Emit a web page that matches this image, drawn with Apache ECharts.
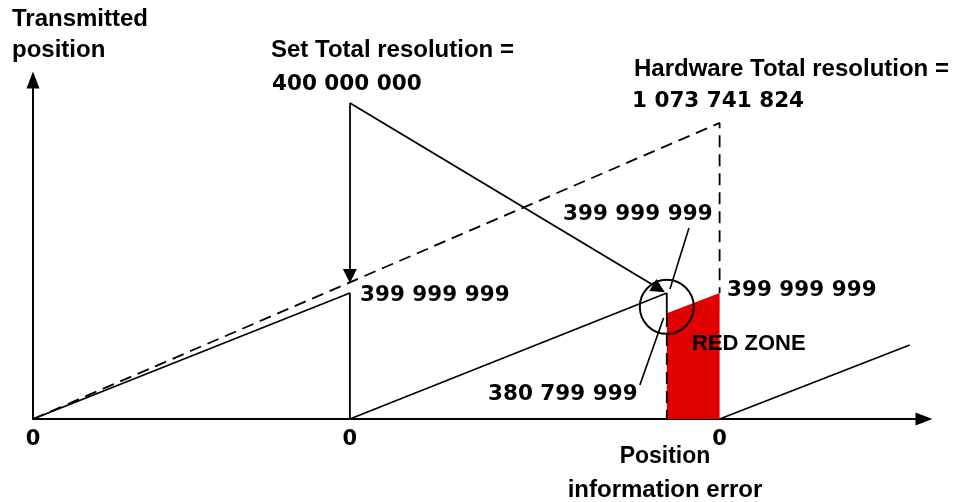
<!DOCTYPE html>
<html>
<head>
<meta charset="utf-8">
<script src="https://cdn.jsdelivr.net/npm/echarts@6/dist/echarts.min.js"></script>
<style>
html, body { margin: 0; padding: 0; background: #fff; }
#chart { width: 962px; height: 502px; }
</style>
</head>
<body>
<div id="chart"></div>
<script>
// schematic units: x = travel, y = position in millions (400 ~ 399 999 999)
var ramp1 = [[0, 0], [6, 400], [6, 0]];
var ramp2 = [[6, 0], [12, 400]];
var ramp3 = [[13, 0], [16.6, 235]];
var hwLine = [[0, 0], [13, 940], [13, 400]];
var wrapSolid = [[12, 400], [12, 330]];
var wrapDash = [[12, 330], [12, 0]];
var redZone = [[12, 336], [13, 400]];
var zeroTicks = [0, 6, 13];
var arrows = [
  [[6, 1003], [6, 454]],
  [[6, 1003], [11.85, 414]]
];
var leaders = [
  [[12.42, 606], [12.06, 413]],
  [[11.49, 108], [11.94, 321]]
];
var circle = [[12, 356]];

var black = '#000';
var wordFont = '"Liberation Sans", Arial, sans-serif';
var numFont = '"DejaVu Sans", sans-serif';

function seg(data, dashed) {
  return {
    type: 'line',
    data: data,
    symbol: 'none',
    silent: true,
    z: 3,
    lineStyle: { color: black, width: 1.8, type: dashed ? [12, 7] : 'solid' }
  };
}

function txt(text, x, y, size, family, align) {
  return {
    type: 'text',
    x: x,
    y: y,
    z: 100,
    style: {
      text: text,
      fill: black,
      font: 'bold ' + size + 'px ' + family,
      textAlign: align || 'left',
      textVerticalAlign: 'middle'
    }
  };
}

var chart = echarts.init(document.getElementById('chart'));

var option = {
  animation: false,
  backgroundColor: '#fff',
  grid: { left: 33, right: 38, top: 80, bottom: 83 },
  xAxis: {
    type: 'value',
    min: 0,
    max: 16.87,
    axisLine: {
      lineStyle: { color: black, width: 2 },
      symbol: ['none', 'triangle'],
      symbolSize: [13, 17]
    },
    axisTick: { show: false },
    splitLine: { show: false },
    axisLabel: {
      customValues: zeroTicks,
      formatter: function () { return '0'; },
      color: black,
      fontWeight: 'bold',
      fontSize: 21,
      fontFamily: numFont,
      margin: 10
    }
  },
  yAxis: {
    type: 'value',
    min: 0,
    max: 1076.2,
    axisLine: {
      show: true,
      lineStyle: { color: black, width: 2 },
      symbol: ['none', 'triangle'],
      symbolSize: [13, 17]
    },
    axisTick: { show: false },
    splitLine: { show: false },
    axisLabel: { show: false }
  },
  series: [
    {
      type: 'line',
      data: redZone,
      symbol: 'none',
      silent: true,
      z: 1,
      lineStyle: { width: 0 },
      areaStyle: { color: '#e00000', opacity: 1 }
    },
    seg(ramp1, false),
    seg(ramp2, false),
    seg(ramp3, false),
    seg(hwLine, true),
    seg(wrapSolid, false),
    seg(wrapDash, true),
    {
      type: 'lines',
      coordinateSystem: 'cartesian2d',
      silent: true,
      z: 4,
      symbol: ['none', 'triangle'],
      symbolSize: [12, 14],
      lineStyle: { color: black, width: 1.8, opacity: 1 },
      data: arrows.map(function (a) { return { coords: a }; })
    },
    {
      type: 'lines',
      coordinateSystem: 'cartesian2d',
      silent: true,
      z: 4,
      lineStyle: { color: black, width: 1.6, opacity: 1 },
      data: leaders.map(function (a) { return { coords: a }; })
    },
    {
      type: 'scatter',
      data: circle,
      silent: true,
      z: 5,
      symbol: 'circle',
      symbolSize: 54,
      itemStyle: { color: 'rgba(0,0,0,0)', borderColor: black, borderWidth: 2, opacity: 1 }
    }
  ],
  graphic: [
    txt('Transmitted', 12, 19, 24, wordFont),
    txt('position', 12, 50, 24, wordFont),
    txt('Set Total resolution =', 271, 50, 24, wordFont),
    txt('400 000 000', 272, 84, 21.5, numFont),
    txt('Hardware Total resolution =', 634, 69, 24, wordFont),
    txt('1 073 741 824', 632, 101, 21.5, numFont),
    txt('399 999 999', 563, 214, 21.5, numFont),
    txt('399 999 999', 360, 295, 21.5, numFont),
    txt('399 999 999', 727, 290, 21.5, numFont),
    txt('380 799 999', 488, 394, 21.5, numFont),
    txt('RED ZONE', 692, 344, 22, wordFont),
    txt('Position', 665, 457, 23, wordFont, 'center'),
    txt('information error', 665, 490, 24, wordFont, 'center')
  ]
};

chart.setOption(option);
</script>
</body>
</html>
